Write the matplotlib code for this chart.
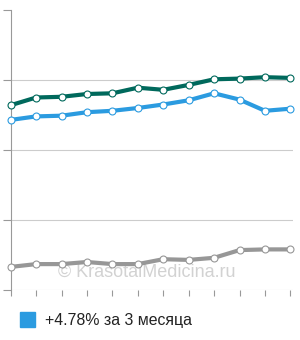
import matplotlib.pyplot as plt

# values (gridlines are 1 unit apart)
months = list(range(12))
green = [2.64, 2.75, 2.76, 2.80, 2.81, 2.89, 2.86, 2.93, 3.01, 3.02, 3.04, 3.03]
blue = [2.43, 2.48, 2.49, 2.54, 2.56, 2.60, 2.65, 2.71, 2.81, 2.72, 2.56, 2.59]
gray = [0.33, 0.37, 0.37, 0.40, 0.37, 0.37, 0.44, 0.43, 0.46, 0.57, 0.58, 0.58]
grid_levels = [0, 1, 2, 3]
legend_text = "+4.78% за 3 месяца"

colors = {
    "green": "#00695c",
    "blue": "#2b9be0",
    "gray": "#979797",
}

fig = plt.figure(figsize=(3.0, 3.4), dpi=100)
ax = fig.add_axes([10.7 / 300, 1 - 290 / 340, 282.2 / 300, 280 / 340])

for ys, name in [(gray, "gray"), (blue, "blue"), (green, "green")]:
    ax.plot(months, ys, '-', color=colors[name], linewidth=3.0,
            solid_joinstyle="round", solid_capstyle="round",
            marker="o", markersize=5, markerfacecolor="white",
            markeredgecolor=colors[name], markeredgewidth=0.8,
            clip_on=False, zorder=3)

ax.set_xlim(0, 11.1)
ax.set_ylim(0, 4)
ax.set_xticks(months)
ax.set_yticks(grid_levels + [4])
ax.set_xticklabels([])
ax.set_yticklabels([])
ax.tick_params(axis="x", direction="out", length=4, width=0.8, color="#999999")
ax.tick_params(axis="y", direction="out", length=6, width=0.8, color="#999999")
for level in grid_levels:
    ax.axhline(level, color="#cccccc", linewidth=0.8, zorder=1)

for side in ["top", "right", "bottom"]:
    ax.spines[side].set_visible(False)
ax.spines["left"].set_color("#999999")
ax.spines["left"].set_linewidth(0.8)

# watermark
ax.text(5.35, 0.25, "© KrasotaiMedicina.ru", fontsize=13, color="#d2d2d2",
        family="Liberation Sans", ha="center", va="center", zorder=2)

# legend
fig.patches.append(plt.Rectangle((20 / 300, 1 - 327 / 340), 15 / 300, 15 / 340,
                                 transform=fig.transFigure, color=colors["blue"],
                                 figure=fig))
fig.text(45 / 300, 1 - 320 / 340, legend_text, fontsize=11.4,
         family="Liberation Sans", color="#222222", va="center", ha="left")

fig.savefig("out.png", dpi=100)
